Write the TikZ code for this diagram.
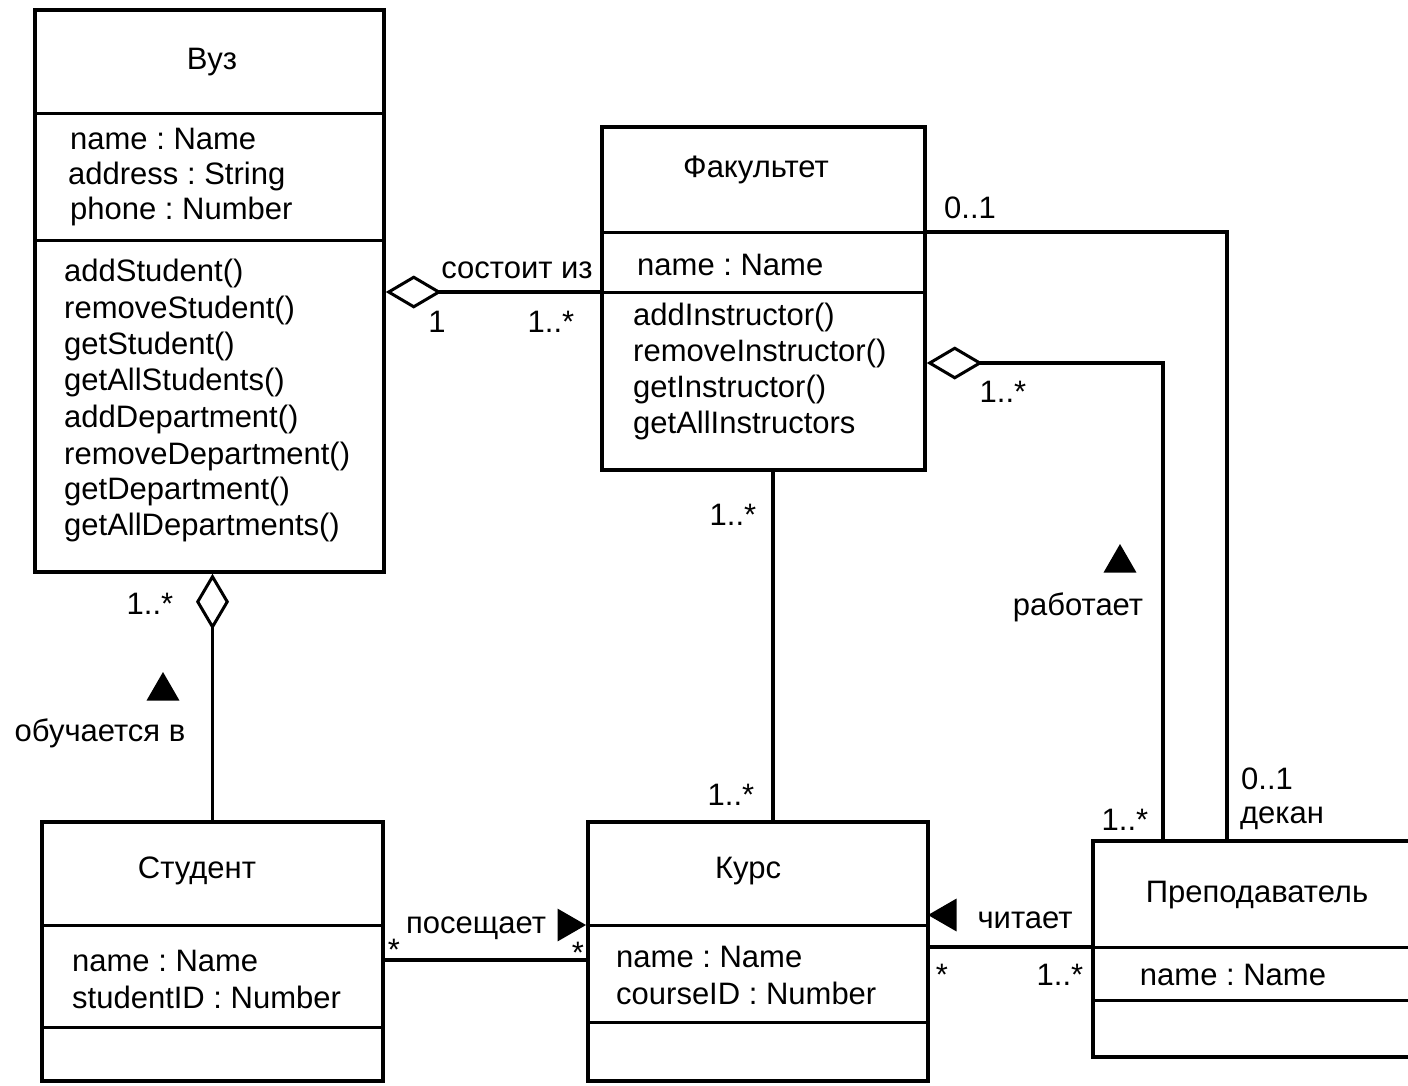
\documentclass[tikz,border=0pt]{standalone}
\usepackage{fontspec}
\setmainfont{Liberation Sans}
\usetikzlibrary{shapes.geometric,arrows.meta}
\frenchspacing
\begin{document}
\begin{tikzpicture}[x=1pt,y=-1pt,
  font=\fontsize{31}{36}\selectfont,
  cls/.style={draw, line width=3.5pt, inner sep=0pt, rectangle},
  divline/.style={line width=3pt},
  assoc/.style={line width=3.5pt},
  agg/.style={{Diamond[open, length=56pt, width=33pt, line width=3pt]}-},
  txt/.style={inner sep=0pt, anchor=west},
  lbl/.style={inner sep=0pt},
  dirmark/.style={regular polygon, regular polygon sides=3, fill=black,
    inner sep=0pt, minimum size=38pt}]
\useasboundingbox (0,0) rectangle (1408,1085);
\clip (0,0) rectangle (1408,1085);

% ---- classes ----
\node[cls, minimum width=349pt, minimum height=562pt] (vuz) at (209.5,291) {};
\node[cls, minimum width=323pt, minimum height=343pt] (fak) at (763.5,298.5) {};
\node[cls, minimum width=341pt, minimum height=259pt] (stud) at (212.5,951.5) {};
\node[cls, minimum width=340pt, minimum height=259pt] (kurs) at (758,951.5) {};
\node[cls, minimum width=319pt, minimum height=216pt] (prep) at (1252.5,949) {};

% compartment separators
\draw[divline] (vuz.west |- 0,113) -- (vuz.east |- 0,113);
\draw[divline] (vuz.west |- 0,240) -- (vuz.east |- 0,240);
\draw[divline] (fak.west |- 0,232) -- (fak.east |- 0,232);
\draw[divline] (fak.west |- 0,292) -- (fak.east |- 0,292);
\draw[divline] (stud.west |- 0,925) -- (stud.east |- 0,925);
\draw[divline] (stud.west |- 0,1027) -- (stud.east |- 0,1027);
\draw[divline] (kurs.west |- 0,925) -- (kurs.east |- 0,925);
\draw[divline] (kurs.west |- 0,1022) -- (kurs.east |- 0,1022);
\draw[divline] (prep.west |- 0,947) -- (prep.east |- 0,947);
\draw[divline] (prep.west |- 0,1000) -- (prep.east |- 0,1000);

% ---- class contents ----
\node[lbl] (vuzname) at (212,62) {Вуз};
\node[txt] (vuza1) at (70,139) {name : Name};
\node[txt] (vuza2) at (68,176) {address : String};
\node[txt] (vuza3) at (70,211) {phone : Number};
\node[txt] (vuzm1) at (64,273) {addStudent()};
\node[txt] (vuzm2) at (64,310) {removeStudent()};
\node[txt] (vuzm3) at (64,346) {getStudent()};
\node[txt] (vuzm4) at (64,382) {getAllStudents()};
\node[txt] (vuzm5) at (64,419) {addDepartment()};
\node[txt] (vuzm6) at (64,456) {removeDepartment()};
\node[txt] (vuzm7) at (64,491) {getDepartment()};
\node[txt] (vuzm8) at (64,527) {getAllDepartments()};

\node[lbl] (fakname) at (756,170) {Факультет};
\node[txt] (faka1) at (637,265) {name : Name};
\node[txt] (fakm1) at (633,317) {addInstructor()};
\node[txt] (fakm2) at (633,353) {removeInstructor()};
\node[txt] (fakm3) at (633,389) {getInstructor()};
\node[txt] (fakm4) at (633,425) {getAllInstructors};

\node[lbl] (studname) at (197,871) {Студент};
\node[txt] (studa1) at (72,961) {name : Name};
\node[txt] (studa2) at (72,997) {studentID : Number};

\node[lbl] (kursname) at (748,871) {Курс};
\node[txt] (kursa1) at (616,957) {name : Name};
\node[txt] (kursa2) at (616,993) {courseID : Number};

\node[lbl] (prepname) at (1257,895) {Преподаватель};
\node[lbl] (prepa1) at (1233,975) {name : Name};

% ---- associations ----
% Вуз consists of faculties
\draw[assoc, agg] ([yshift=-1pt]vuz.east) -- ([yshift=-1pt]vuz.east -| fak.west);
\node[lbl] (l1) at (517,270) {состоит из};
\node[lbl] (l2) at (437,322) {1};
\node[lbl] (l3) at (551,322) {1..*};

% student studies at Вуз
\draw[assoc, agg] (stud.north |- vuz.south) -- (stud.north);
\node[lbl] (l4) at (150,604) {1..*};
\node[dirmark] (m1) at (163,691) {};
\node[lbl] (l5) at (100,733) {обучается в};

% student attends course
\draw[assoc] ([yshift=-8.5pt]stud.east) -- ([yshift=-8.5pt]stud.east -| kurs.west);
\node[lbl] (l6) at (476,928) {посещает};
\node[dirmark, shape border rotate=-90] (m2) at (567,925) {};
\node[lbl] (l7) at (394,950) {*};
\node[lbl] (l8) at (578,953) {*};

% faculty offers courses
\draw[assoc] ([xshift=9.5pt]fak.south) -- ([xshift=9.5pt]fak.south |- kurs.north);
\node[lbl] (l9) at (733,515) {1..*};
\node[lbl] (l10) at (731,795) {1..*};

% instructor teaches course
\draw[assoc] ([yshift=4.5pt]kurs.east) -- ([yshift=4.5pt]kurs.east -| prep.west);
\node[lbl] (l11) at (1025,920) {читает};
\node[dirmark, shape border rotate=90] (m3) at (947,915) {};
\node[lbl] (l12) at (942,975) {*};
\node[lbl] (l13) at (1060,975) {1..*};

% instructor works at faculty
\draw[assoc, agg] ([yshift=-64.5pt]fak.east) -| ([xshift=-89.5pt]prep.north);
\node[lbl] (l14) at (1003,392) {1..*};
\node[dirmark] (m4) at (1120,563) {};
\node[lbl] (l15) at (1078,607) {работает};
\node[lbl] (l16) at (1125,820) {1..*};

% dean of faculty
\draw[assoc] ([yshift=66.5pt]fak.east) -| ([xshift=-25.5pt]prep.north);
\node[lbl] (l17) at (970,208) {0..1};
\node[lbl] (l18) at (1267,779) {0..1};
\node[lbl] (l19) at (1282,818) {декан};
\end{tikzpicture}
\end{document}
